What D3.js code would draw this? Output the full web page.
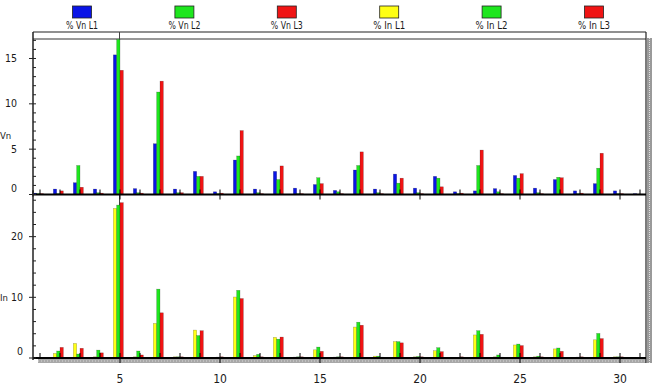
<!DOCTYPE html>
<html><head><meta charset="utf-8">
<script src="https://cdnjs.cloudflare.com/ajax/libs/d3/7.8.5/d3.min.js"></script>
<style>
html,body{margin:0;padding:0;background:#fff;}
svg{display:block;}
text{font-family:"Liberation Sans Narrow","DejaVu Sans Condensed","Liberation Sans",sans-serif;fill:#1a1a1a;}
</style></head>
<body>
<svg id="chart" width="669" height="388"></svg>
<script>
// ---- data ----
const harmonics = d3.range(1, 32);
const legendLabels = ["% Vn L1", "% Vn L2", "% Vn L3", "% In L1", "% In L2", "% In L3"];
const vnL1 = [0.15,0.6,1.3,0.6,15.4,0.65,5.6,0.6,2.55,0.3,3.8,0.6,2.55,0.7,1.1,0.45,2.7,0.6,2.25,0.7,2.0,0.3,0.4,0.65,2.1,0.7,1.65,0.4,1.2,0.4,0.1];
const vnL2 = [0.1,0.1,3.2,0.2,17.1,0.2,11.3,0.2,2.0,0.1,4.25,0.2,1.65,0.1,1.85,0.3,3.2,0.2,1.25,0.2,1.8,0.1,3.2,0.3,1.8,0.2,1.9,0.1,2.9,0.1,0.05];
const vnL3 = [0.1,0.4,0.8,0.15,13.7,0.15,12.5,0.2,2.0,0.15,7.05,0.1,3.15,0.1,1.2,0.1,4.7,0.1,1.8,0.1,0.85,0.15,4.9,0.1,2.3,0.1,1.85,0.15,4.55,0.1,0.05];
const inL1 = [0.1,0.75,2.4,0.2,24.65,0.2,5.7,0.2,4.6,0.1,10.05,0.4,3.4,0.15,1.35,0.15,5.1,0.3,2.7,0.2,1.2,0.1,3.8,0.2,2.15,0.2,1.5,0.1,3.0,0.2,0.05];
const inL2 = [0.1,1.15,0.65,1.3,25.2,1.15,11.35,0.2,3.7,0.15,11.15,0.6,3.1,0.2,1.8,0.2,5.9,0.3,2.7,0.25,1.7,0.1,4.5,0.5,2.3,0.3,1.65,0.15,4.05,0.2,0.05];
const inL3 = [0.1,1.75,1.6,0.85,25.6,0.5,7.45,0.2,4.5,0.2,9.8,0.2,3.45,0.2,1.1,0.2,5.4,0.15,2.5,0.2,1.05,0.2,3.9,0.15,2.05,0.2,1.1,0.2,3.2,0.2,0.05];
const yTopTicks = [0, 5, 10, 15];
const yBotTicks = [0, 10, 20];
const xTicks = [5, 10, 15, 20, 25, 30];
const colors = ["#0a14e6", "#1ee61e", "#f01414", "#ffff14", "#1ee61e", "#f01414"];

// ---- layout ----
const svg = d3.select("#chart");
const L = 33, R = 646;
const x = d3.scaleLinear().domain([0.65, 31.3]).range([L, R]);
const yTop = d3.scaleLinear().domain([0, 17.15]).range([194.5, 39]);
const yBot = d3.scaleLinear().domain([0, 26.5]).range([358, 197.2]);
const w = x(1) - x(0);
const band = d3.scaleBand().domain([0, 1, 2]).range([-w / 3, w / 6]);

// legend
const legX = d3.scalePoint().domain(legendLabels).range([82, 594]);
const leg = svg.append("g");
legendLabels.forEach((lab, i) => {
  const cx = legX(lab);
  leg.append("rect").attr("x", cx - 9.5).attr("y", 6).attr("width", 19).attr("height", 12)
    .attr("fill", colors[i]).attr("stroke", "#222").attr("stroke-width", 0.8);
  leg.append("text").attr("x", cx).attr("y", 29).attr("text-anchor", "middle")
    .attr("font-size", 10.5).attr("textLength", 32).attr("lengthAdjust", "spacingAndGlyphs").text(lab);
});

// frame
svg.append("rect").attr("x", 647).attr("y", 38).attr("width", 5).attr("height", 325).attr("fill", "#9a9a9a");
svg.append("line").attr("x1", 649.5).attr("x2", 649.5).attr("y1", 38).attr("y2", 363)
  .attr("stroke", "#e0e0e0").attr("stroke-dasharray", "1,1");
svg.append("rect").attr("x", 38).attr("y", 359).attr("width", R - 38).attr("height", 4).attr("fill", "#a8a8a8");
svg.append("line").attr("x1", 38).attr("x2", R).attr("y1", 361).attr("y2", 361)
  .attr("stroke", "#d8d8d8").attr("stroke-dasharray", "1,2");
svg.append("line").attr("x1", L).attr("x2", R).attr("y1", 32).attr("y2", 32).attr("stroke", "#222").attr("stroke-width", 1.2);
svg.append("line").attr("x1", L).attr("x2", R).attr("y1", 39).attr("y2", 39).attr("stroke", "#333").attr("stroke-width", 1.2);
svg.append("line").attr("x1", R).attr("x2", R).attr("y1", 32).attr("y2", 363).attr("stroke", "#222").attr("stroke-width", 1.2);
// cursor line at 5th harmonic
svg.append("line").attr("x1", x(5) - 0.5).attr("x2", x(5) - 0.5).attr("y1", 32).attr("y2", 358)
  .attr("stroke", "#444").attr("stroke-width", 1);

function panel(y, series, colIdx, minorStep, ticks, title, titleY, labelEnd) {
  const g = svg.append("g");
  series.forEach((arr, s) => {
    g.append("g").selectAll("rect").data(harmonics).join("rect")
      .attr("x", h => x(h) + band(s))
      .attr("width", band.bandwidth())
      .attr("y", (h, i) => y(arr[i]))
      .attr("height", (h, i) => y(0) - y(arr[i]))
      .attr("fill", colors[colIdx[s]])
      .attr("stroke", "#000").attr("stroke-opacity", 0.35).attr("stroke-width", 0.5);
  });
  // x baseline & ticks
  g.append("line").attr("x1", L).attr("x2", R).attr("y1", y(0)).attr("y2", y(0)).attr("stroke", "#000").attr("stroke-width", 2);
  g.append("g").selectAll("line").data(harmonics).join("line")
    .attr("x1", h => x(h)).attr("x2", h => x(h))
    .attr("y1", y(0) - 5).attr("y2", h => h % 5 === 0 ? y(0) + 5 : y(0))
    .attr("stroke", "#000").attr("stroke-width", 1);
  // y axis
  g.append("line").attr("x1", L).attr("x2", L).attr("y1", y.range()[1] - 7).attr("y2", y(0) + 2).attr("stroke", "#222").attr("stroke-width", 1.5);
  const minors = d3.range(0, y.domain()[1] + 0.01, minorStep);
  g.append("g").selectAll("line").data(minors).join("line")
    .attr("x1", v => ticks.includes(v) ? L - 4 : L).attr("x2", L + 3)
    .attr("y1", v => y(v)).attr("y2", v => y(v)).attr("stroke", "#222").attr("stroke-width", 1);
  g.append("g").selectAll("text").data(ticks).join("text")
    .attr("x", labelEnd).attr("y", v => v === 0 ? y(v) - 3 : y(v) + 3.5)
    .attr("text-anchor", "end").attr("font-size", 10.5).text(v => v);
  g.append("text").attr("x", 0).attr("y", titleY).attr("font-size", 9.5).text(title);
}

panel(yTop, [vnL1, vnL2, vnL3], [0, 1, 2], 1, yTopTicks, "Vn", 139, 17);
panel(yBot, [inL1, inL2, inL3], [3, 4, 5], 2, yBotTicks, "In", 301, 23);

svg.append("g").selectAll("text").data(xTicks).join("text")
  .attr("x", h => x(h)).attr("y", 383).attr("text-anchor", "middle")
  .attr("font-size", 12).text(h => h);
</script>
</body></html>
